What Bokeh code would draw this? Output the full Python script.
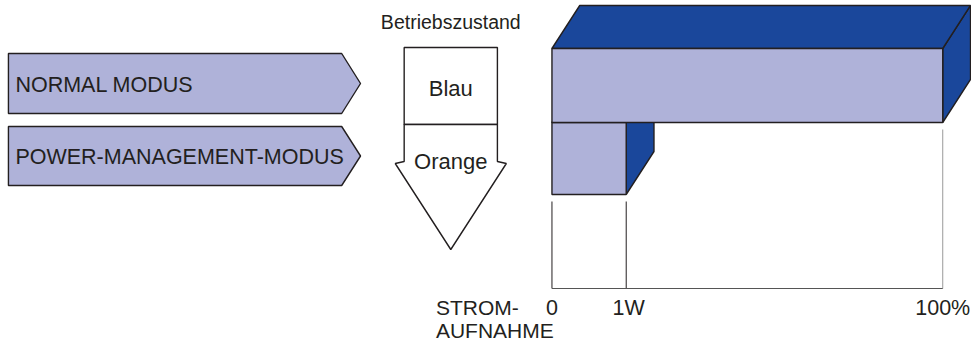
from bokeh.plotting import figure
from bokeh.models import Range1d
from bokeh.core.properties import value
from bokeh.embed import file_html
from bokeh.resources import INLINE

# ---------------- data ----------------
modes = ["NORMAL MODUS", "POWER-MANAGEMENT-MODUS"]
power_pct = [100, 19]            # where each bar ends on the consumption scale
indicator = ["Blau", "Orange"]   # state indicator per mode
header = "Betriebszustand"
tick_pos = [0, 19, 100]
tick_labels = ["0", "1W", "100%"]
axis_title = ["STROM-", "AUFNAHME"]

# ---------------- layout / style ----------------
FONT = value("Liberation Sans")
LAV = "#AFB2D9"
BLUE = "#1A479B"
INK = "#231F20"
GRAY = "#9A9A9A"

W, H = 971, 341
X0, X1 = 0, 979          # diagram coordinate frame (x)
Y0, Y1 = 4, 345          # diagram coordinate frame (y, downward)
SCALE_L, SCALE_R = 556, 950      # frame positions of 0 and 100 %
ppp = (SCALE_R - SCALE_L) / 100.0
DEPTH_X = 28 / ppp               # depth offset in % units
DEPTH_Y = 43
ROW_TOP = [52, 126]
ROW_BOT = [126, 198]
BASE_Y = 292
LW = 1.4

p = figure(width=W, height=H, x_range=Range1d(X0, X1), y_range=Range1d(Y1, Y0),
           output_backend="svg", toolbar_location=None, min_border=0)
p.extra_x_ranges = {"pct": Range1d(-(SCALE_L - X0) / ppp, 100 + (X1 - SCALE_R) / ppp)}
p.axis.visible = False
p.grid.visible = False
p.outline_line_color = None
p.background_fill_color = "white"
p.border_fill_color = "white"

# ---- left mode labels (pentagon arrows) ----
pent_top = [57, 130]
pent_bot = [117, 189]
label_cy = [88.5, 160]
for i, m in enumerate(modes):
    t, b = pent_top[i], pent_bot[i]
    c = (t + b) / 2
    p.patch([8, 344, 363, 344, 8], [t, t, c, b, b], fill_color=LAV,
            line_color=INK, line_width=LW)
    p.text(x=[15], y=[label_cy[i]], text=[m], text_font=FONT,
           text_font_size="21.5px", text_color=INK, text_baseline="middle",
           text_align="left")

# ---- state indicator (box + arrow) ----
bx0, bx1, cx = 407, 501, 454
p.text(x=[cx], y=[25], text=[header], text_font=FONT, text_font_size="19.5px",
       text_color=INK, text_align="center", text_baseline="middle")
p.patch([bx0, bx1, bx1, bx0], [51, 51, 128, 128], fill_color="white",
        line_color=INK, line_width=LW)
p.patch([bx0, bx0, 398, cx, 510, bx1, bx1], [128, 165, 167, 253, 167, 165, 128],
        fill_color="white", line_color=INK, line_width=LW)
p.text(x=[cx, cx], y=[92, 165], text=indicator, text_font=FONT,
       text_font_size="22px", text_color=INK, text_align="center",
       text_baseline="middle")

# ---- guide lines and scale ----
guide_start = [ROW_BOT[1] + 7, ROW_BOT[1] + 7, ROW_BOT[0] + 7]
guide_col = [INK, INK, GRAY]
for i, tp in enumerate(tick_pos):
    p.segment(x0=[tp], y0=[guide_start[i]], x1=[tp], y1=[BASE_Y],
              line_color=guide_col[i], line_width=1, x_range_name="pct")
p.segment(x0=[tick_pos[0]], y0=[BASE_Y], x1=[tick_pos[-1]], y1=[BASE_Y],
          line_color="#555555", line_width=1.2, x_range_name="pct")
p.text(x=[t + (0.6 if i == 1 else 0) for i, t in enumerate(tick_pos)], y=[311] * 3,
       text=tick_labels, text_font=FONT, text_font_size="21.5px", text_color=INK,
       text_align="center", text_baseline="middle", x_range_name="pct")
p.text(x=[439, 439], y=[311, 334], text=axis_title, text_font=FONT,
       text_font_size="21px", text_color=INK, text_align="left",
       text_baseline="middle")

# ---- 3D bars (drawn back row first so the front row covers it) ----
for i in [1, 0]:
    v = power_pct[i]
    t, b = ROW_TOP[i], ROW_BOT[i]
    # side face
    p.patch([v, v + DEPTH_X, v + DEPTH_X, v], [t, t - DEPTH_Y, b - DEPTH_Y, b],
            fill_color=BLUE, line_color=INK, line_width=LW, x_range_name="pct")
    # top face
    p.patch([0, DEPTH_X, v + DEPTH_X, v], [t, t - DEPTH_Y, t - DEPTH_Y, t],
            fill_color=BLUE, line_color=INK, line_width=LW, x_range_name="pct")
    # front face
    p.quad(left=[0], right=[v], top=[t], bottom=[b], fill_color=LAV,
           line_color=INK, line_width=LW, x_range_name="pct")

open("out.html", "w").write(file_html(p, INLINE))
